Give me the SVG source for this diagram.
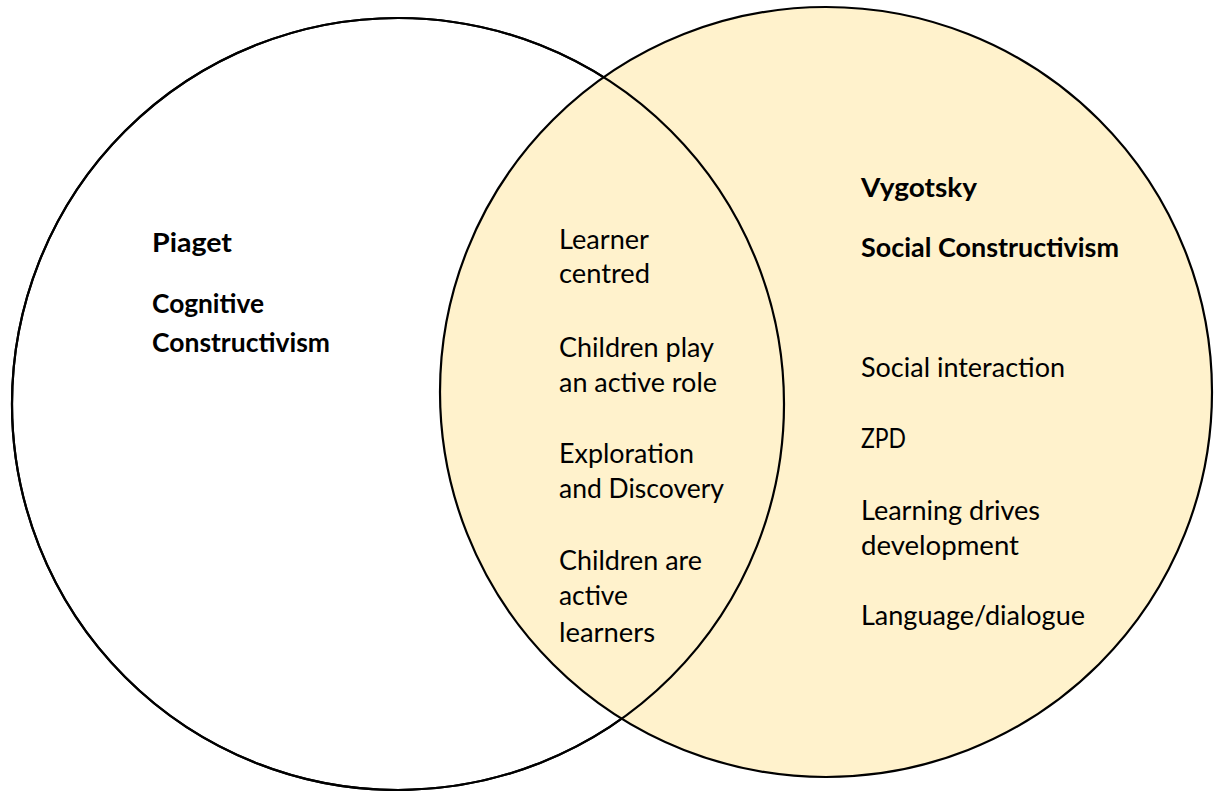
<svg xmlns="http://www.w3.org/2000/svg" width="1216" height="791" viewBox="0 0 1216 791">
<style>
.c{stroke:#000;stroke-width:2.2}
text{font-family:Lato,"Open Sans","Liberation Sans",sans-serif;font-size:27px;fill:#000}
.b{font-weight:bold}
</style>
<rect width="1216" height="791" fill="#fff"/>
<g id="piaget-circle">
<circle cx="398" cy="404" r="386" fill="#fff" class="c"/>
</g>
<g id="vygotsky-circle">
<ellipse cx="826" cy="392" rx="386" ry="385" fill="#FFF2CC" class="c"/>
</g>
<g id="piaget-outline">
<circle cx="398" cy="404" r="386" fill="none" class="c"/>
</g>
<g id="piaget-label">
<text class="b" x="152" y="252" textLength="80" lengthAdjust="spacingAndGlyphs">Piaget</text>
<text class="b" x="152" y="313" textLength="112" lengthAdjust="spacingAndGlyphs">Cognitive</text>
<text class="b" x="152" y="352" textLength="178" lengthAdjust="spacingAndGlyphs">Constructivism</text>
</g>
<g id="shared-label">
<text x="559" y="249" textLength="90" lengthAdjust="spacingAndGlyphs">Learner</text>
<text x="559" y="283" textLength="91" lengthAdjust="spacingAndGlyphs">centred</text>
<text x="559" y="357" textLength="155" lengthAdjust="spacingAndGlyphs">Children play</text>
<text x="559" y="392" textLength="158" lengthAdjust="spacingAndGlyphs">an active role</text>
<text x="559" y="463" textLength="135" lengthAdjust="spacingAndGlyphs">Exploration</text>
<text x="559" y="498" textLength="165" lengthAdjust="spacingAndGlyphs">and Discovery</text>
<text x="559" y="570" textLength="143" lengthAdjust="spacingAndGlyphs">Children are</text>
<text x="559" y="605" textLength="69" lengthAdjust="spacingAndGlyphs">active</text>
<text x="559" y="642" textLength="96" lengthAdjust="spacingAndGlyphs">learners</text>
</g>
<g id="vygotsky-label">
<text class="b" x="861" y="197" textLength="116" lengthAdjust="spacingAndGlyphs">Vygotsky</text>
<text class="b" x="861" y="257" textLength="258" lengthAdjust="spacingAndGlyphs">Social Constructivism</text>
<text x="861" y="377" textLength="204" lengthAdjust="spacingAndGlyphs">Social interaction</text>
<text x="861" y="448" textLength="45" lengthAdjust="spacingAndGlyphs">ZPD</text>
<text x="861" y="520" textLength="179" lengthAdjust="spacingAndGlyphs">Learning drives</text>
<text x="861" y="555" textLength="158" lengthAdjust="spacingAndGlyphs">development</text>
<text x="861" y="625" textLength="224" lengthAdjust="spacingAndGlyphs">Language/dialogue</text>
</g>
</svg>
